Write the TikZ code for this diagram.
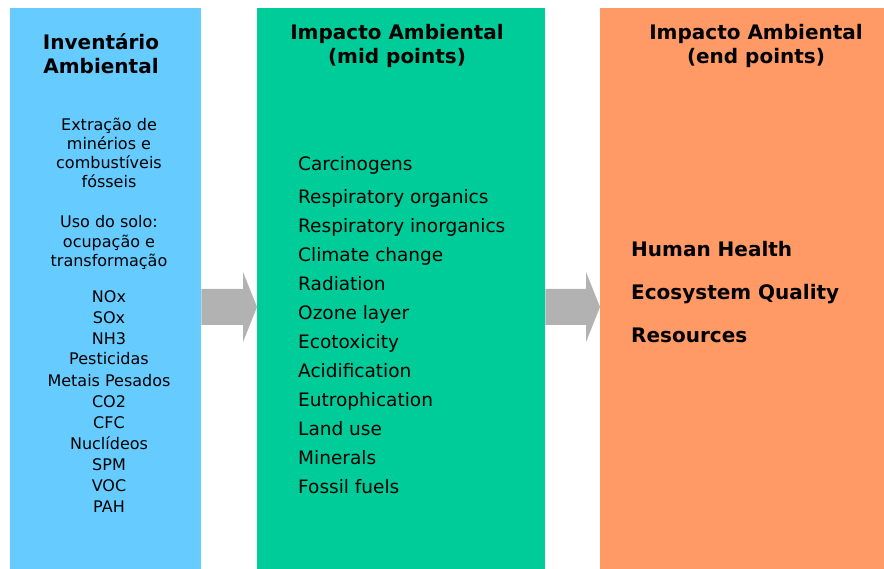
\documentclass[tikz,border=0pt]{standalone}
\usepackage{fontspec}
\setmainfont{DejaVu Sans}
\definecolor{invblue}{HTML}{66CCFF}
\definecolor{midgreen}{HTML}{00CC99}
\definecolor{endorange}{HTML}{FF9966}
\definecolor{arrowgrey}{HTML}{B2B2B2}
\definecolor{txt}{HTML}{000000}
\tikzset{
  colbox/.style={draw=none, inner sep=0pt, anchor=north west},
  ttl/.style={inner sep=0pt, text=txt, align=center, font=\fontsize{20}{24}\selectfont\bfseries},
  lefttxt/.style={inner sep=0pt, text=txt, anchor=center, text height=11.7pt, text depth=0pt, font=\fontsize{16}{19}\selectfont},
  midtxt/.style={inner sep=0pt, text=txt, anchor=west, text height=13.5pt, text depth=0pt, font=\fontsize{18.5}{22}\selectfont},
  endtxt/.style={inner sep=0pt, text=txt, anchor=west, text height=14.6pt, text depth=0pt, font=\fontsize{20}{24}\selectfont\bfseries},
  blockarrow/.style={fill=arrowgrey, draw=none}
}
\begin{document}
\begin{tikzpicture}[x=1pt, y=-1pt]
\fill[white] (0,0) rectangle (884,569);
\useasboundingbox (0,0) rectangle (884,569);
% columns
\node[colbox, fill=invblue, minimum width=191pt, minimum height=561pt] (inv) at (10,8) {};
\node[colbox, fill=midgreen, minimum width=288pt, minimum height=561pt] (mid) at (257,8) {};
\node[colbox, fill=endorange, minimum width=284pt, minimum height=561pt] (endp) at (600,8) {};
% arrows
\fill[blockarrow] (inv.east |- 0,289) -- (243,289) -- (243,272) -- (mid.west |- 0,307) -- (243,342) -- (243,325) -- (inv.east |- 0,325) -- cycle;
\fill[blockarrow] (mid.east |- 0,289) -- (586,289) -- (586,272) -- (endp.west |- 0,307) -- (586,342) -- (586,325) -- (mid.east |- 0,325) -- cycle;
% titles
\node[ttl] (t1) at (101,54) {Inventário\\Ambiental};
\node[ttl] (t2) at (397,46) {Impacto Ambiental\\(mid points)};
\node[ttl] (t3) at (756,46) {Impacto Ambiental\\(end points)};
% left column
\foreach \t/\y [count=\i] in {Extração de/125, minérios e/144, combustíveis/163, fósseis/182,
  Uso do solo:/222, ocupação e/242, transformação/261,
  NOx/297, SOx/318, NH3/339, Pesticidas/359, Metais Pesados/381, CO2/402, CFC/423,
  Nuclídeos/444, SPM/465, VOC/486, PAH/507}
  \node[lefttxt] (l\i) at (109,\y) {\t};
% middle column
\foreach \t/\y [count=\i] in {Carcinogens/164, Respiratory organics/197, Respiratory inorganics/226,
  Climate change/255, Radiation/284, Ozone layer/313, Ecotoxicity/342, Acidification/371,
  Eutrophication/400, Land use/429, Minerals/458, Fossil fuels/487}
  \node[midtxt] (m\i) at (298,\y) {\t};
% right column
\node[endtxt] (e1) at (631,249) {Human Health};
\node[endtxt] (e2) at (631,292) {Ecosystem Quality};
\node[endtxt] (e3) at (631,335) {Resources};
\end{tikzpicture}
\end{document}
